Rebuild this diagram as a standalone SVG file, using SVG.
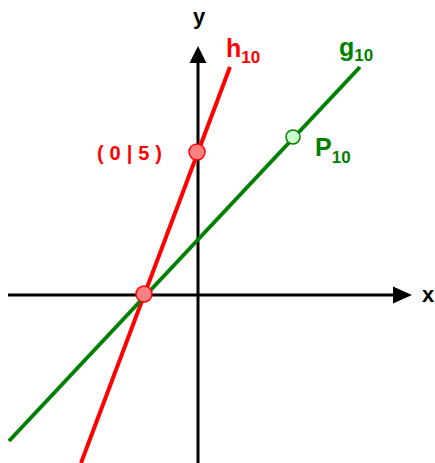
<svg xmlns="http://www.w3.org/2000/svg" width="435" height="463" viewBox="0 0 435 463">
<style>
text{font-family:"Liberation Sans",Arial,sans-serif;font-weight:bold}
.ax{stroke:#000;stroke-width:3;fill:none}
.red{fill:#ff0000}
.grn{fill:#008000}
.sub{font-size:17px}
.main{font-size:25px}
</style>
<rect width="435" height="463" fill="#fff"/>
<g id="connectors">
<line class="ax" x1="8" y1="295" x2="395" y2="295"/>
<polygon points="393,286.5 412,295 393,303.5" fill="#000"/>
<line class="ax" x1="198" y1="463" x2="198" y2="61"/>
<polygon points="189.5,63 198,46 206.5,63" fill="#000"/>
<line x1="81" y1="463" x2="230" y2="67" stroke="#ff0000" stroke-width="4"/>
<line x1="9" y1="441" x2="360" y2="67" stroke="#008000" stroke-width="4"/>
</g>
<g id="axis-labels">
<text x="199" y="24" font-size="22" text-anchor="middle">y</text>
<text x="428" y="302" font-size="22" text-anchor="middle">x</text>
</g>
<g id="h10">
<text x="226" y="57" class="red"><tspan class="main">h</tspan><tspan class="sub" dy="6">10</tspan></text>
</g>
<g id="g10">
<text x="339" y="56" class="grn"><tspan class="main">g</tspan><tspan class="sub" dy="5">10</tspan></text>
</g>
<g id="P10">
<circle cx="293" cy="137" r="7" fill="#ccffcc" stroke="#008000" stroke-width="1.5"/>
<text x="315" y="156" class="grn"><tspan class="main">P</tspan><tspan class="sub" dy="7">10</tspan></text>
</g>
<g id="point05">
<circle cx="197" cy="152" r="8" fill="#ff8080" stroke="#ff0000" stroke-width="1.5"/>
<text x="97" y="160" class="red" font-size="20" textLength="65" lengthAdjust="spacing" xml:space="preserve">( 0 | 5 )</text>
</g>
<g id="root">
<circle cx="144" cy="294" r="8" fill="#ff8080" stroke="#ff0000" stroke-width="1.5"/>
</g>
</svg>
